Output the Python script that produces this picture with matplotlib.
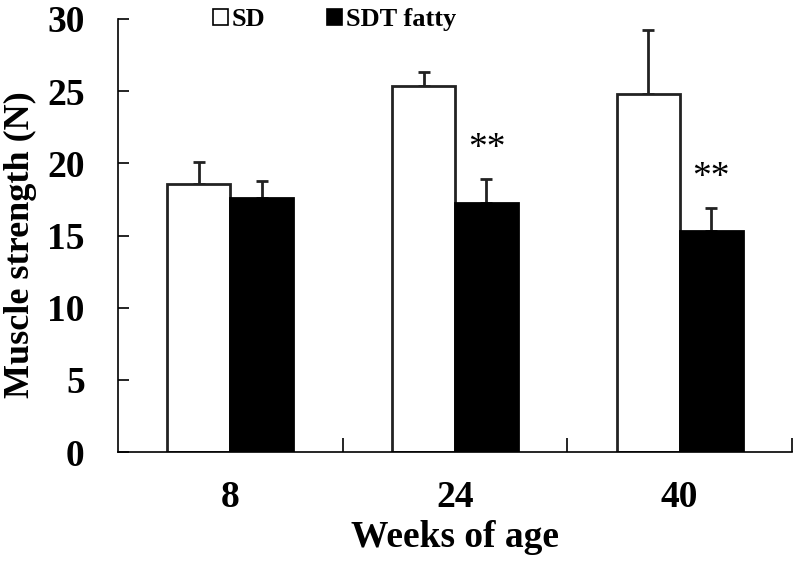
import numpy as np
import matplotlib.pyplot as plt
from matplotlib.patches import Patch

# Dados
weeks = ["8", "24", "40"]
sd_mean = [18.55, 25.35, 24.8]
sd_err = [1.55, 1.0, 4.45]
sdt_mean = [17.6, 17.25, 15.3]
sdt_err = [1.2, 1.65, 1.6]
signif = ["", "**", "**"]

plt.rcParams['font.family'] = ['Liberation Serif', 'DejaVu Serif']

fig = plt.figure(figsize=(7.93, 5.64), dpi=100)
ax = fig.add_axes([118/793, 112/564, 674/793, 433/564])

x = np.arange(len(weeks))
w = 0.28

ax.bar(x - w/2, sd_mean, w, color="white", edgecolor="#222222", linewidth=2, zorder=2)
ax.bar(x + w/2, sdt_mean, w, color="black", edgecolor="black", linewidth=2, zorder=2)

ax.errorbar(x - w/2, sd_mean, yerr=[np.zeros(3), sd_err], fmt="none", ecolor="#222222",
            elinewidth=2, capsize=4, capthick=2, zorder=1)
ax.errorbar(x + w/2, sdt_mean, yerr=[np.zeros(3), sdt_err], fmt="none", ecolor="#222222",
            elinewidth=2, capsize=4, capthick=2, zorder=1)

for i in range(len(weeks)):
    if signif[i]:
        ax.text(x[i] + w/2, sdt_mean[i] + sdt_err[i] + 0.9, signif[i], ha="center", va="bottom",
                fontsize=27)

ax.set_xlim(-0.5, 2.5)
ax.set_ylim(0, 30)
ax.set_yticks(range(0, 31, 5))
ax.tick_params(axis="y", direction="in", length=8, width=1.2, pad=24, labelsize=27)
for lab in ax.get_yticklabels():
    lab.set_fontweight("bold")

ax.set_xticks([0.5, 1.5, 2.5])
ax.set_xticklabels([])
ax.set_xticks(x, minor=True)
ax.set_xticklabels(weeks, minor=True, fontsize=27, fontweight="bold")
ax.tick_params(axis="x", which="major", direction="in", length=10, width=1.2)
ax.tick_params(axis="x", which="minor", length=0, pad=20)

ax.spines["top"].set_visible(False)
ax.spines["right"].set_visible(False)
ax.spines["left"].set_linewidth(1.2)
ax.spines["bottom"].set_linewidth(1.2)

ax.set_ylabel("Muscle strength (N)", fontsize=26, fontweight="bold")
ax.yaxis.set_label_coords(-0.12, 0.48)
ax.set_xlabel("Weeks of age", fontsize=27, fontweight="bold", labelpad=4)

handles = [Patch(facecolor="white", edgecolor="black", linewidth=1.2),
           Patch(facecolor="black", edgecolor="black", linewidth=1.2)]
leg = ax.legend(handles, ["SD", "SDT fatty"], ncol=2, frameon=False,
                loc="upper left", bbox_to_anchor=(0.106, 1.08),
                handlelength=0.55, handleheight=0.55, handletextpad=0.15,
                columnspacing=2.35, prop={"size": 19, "weight": "bold"})

fig.savefig("out.png", dpi=100)
